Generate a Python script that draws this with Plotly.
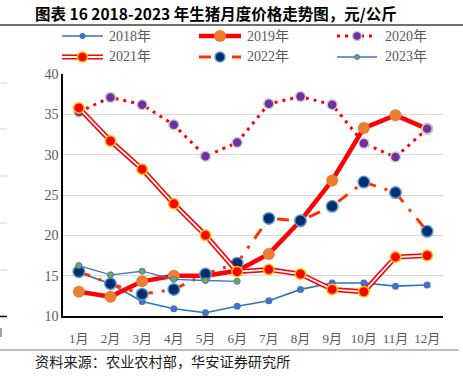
import plotly.graph_objects as go

months = ["1月", "2月", "3月", "4月", "5月", "6月", "7月", "8月", "9月", "10月", "11月", "12月"]
y2018 = [15.4, 14.0, 11.8, 10.9, 10.4, 11.2, 11.9, 13.3, 14.1, 14.1, 13.7, 13.85]
y2019 = [13.0, 12.4, 14.3, 15.0, 15.0, 15.6, 17.7, 21.8, 26.8, 33.3, 34.9, 33.2]
y2020 = [35.3, 37.1, 36.2, 33.7, 29.8, 31.5, 36.3, 37.2, 36.2, 31.4, 29.7, 33.2]
y2021 = [35.8, 31.7, 28.2, 23.9, 20.0, 15.5, 15.75, 15.2, 13.3, 13.0, 17.3, 17.5]
y2022 = [15.5, 14.0, 12.7, 13.3, 15.2, 16.55, 22.1, 21.8, 23.6, 26.6, 25.3, 20.5]
y2023 = [16.25, 15.1, 15.55, 14.55, 14.4, 14.3]
series_names = ["2018年", "2019年", "2020年", "2021年", "2022年", "2023年"]
y_ticks = [10, 15, 20, 25, 30, 35, 40]

W, H = 463, 381
L, R, T, B = 63, 443, 74, 316

def px(x):
    return (x - L) / (R - L)

def py(y):
    return (B - y) / (B - T)

SERIF = "Liberation Serif, Noto Sans CJK SC, serif"
GRAY = "#595959"

fig = go.Figure()

# 2018
fig.add_trace(go.Scatter(x=months, y=y2018, mode="lines+markers", name=series_names[0],
                         line=dict(color="#2E75B6", width=1.6),
                         marker=dict(color="#4472C4", size=7, line=dict(width=0))))
# 2019
fig.add_trace(go.Scatter(x=months, y=y2019, mode="lines+markers", name=series_names[1],
                         line=dict(color="#FF0000", width=4.5),
                         marker=dict(color="#ED7D31", size=12, line=dict(width=0))))
# 2020
fig.add_trace(go.Scatter(x=months, y=y2020, mode="lines+markers", name=series_names[2],
                         line=dict(color="#FF0000", width=3, dash="3px,5px"),
                         marker=dict(color="#7030A0", size=10, line=dict(color="#D0D0D0", width=1.5))))
# 2022
fig.add_trace(go.Scatter(x=months, y=y2022, mode="lines+markers", name=series_names[4],
                         line=dict(color="#FF3300", width=3, dash="12px,9px,3px,9px"),
                         marker=dict(color="#002F6C", size=11.5, line=dict(color="#5B9BD5", width=1.5))))
# 2021 double line
fig.add_trace(go.Scatter(x=months, y=y2021, mode="lines", name=series_names[3],
                         line=dict(color="#FF0000", width=5), hoverinfo="skip"))
fig.add_trace(go.Scatter(x=months, y=y2021, mode="lines+markers", name=series_names[3],
                         line=dict(color="#FFFFFF", width=1.8),
                         marker=dict(color="#FF0000", size=10.5, line=dict(color="#FFC000", width=1.5))))
# 2023
fig.add_trace(go.Scatter(x=months[:len(y2023)], y=y2023, mode="lines+markers", name=series_names[5],
                         line=dict(color="#4472C4", width=1.3),
                         marker=dict(color="#70AD47", size=6, line=dict(color="#4472C4", width=1))))

shapes = []
annotations = []

# Title line and bottom line
shapes.append(dict(type="line", xref="paper", yref="paper", x0=px(0), x1=px(463), y0=py(25), y1=py(25),
                   line=dict(color="#404040", width=1.5)))
shapes.append(dict(type="line", xref="paper", yref="paper", x0=px(0), x1=px(459), y0=py(350), y1=py(350),
                   line=dict(color="#7F7F7F", width=1.2)))
# left edge artifacts
for yy in [83, 129, 176, 223, 270]:
    shapes.append(dict(type="line", xref="paper", yref="paper", x0=px(0), x1=px(7), y0=py(yy), y1=py(yy),
                       line=dict(color="#D9D9D9", width=1)))
shapes.append(dict(type="line", xref="paper", yref="paper", x0=px(0), x1=px(7), y0=py(316.5), y1=py(316.5),
                   line=dict(color="#000000", width=1.5)))
shapes.append(dict(type="line", xref="paper", yref="paper", x0=px(1), x1=px(1), y0=py(328), y1=py(337),
                   line=dict(color="#404040", width=1)))

# Manual legend
def leg_marker(cx, cy, size, fill, border, bw):
    r = size / 2
    return dict(type="circle", xref="paper", yref="paper", xsizemode="pixel", ysizemode="pixel",
                xanchor=px(cx), yanchor=py(cy), x0=-r, x1=r, y0=-r, y1=r,
                fillcolor=fill, line=dict(color=border, width=bw))

def leg_line(x0, x1, yy, color, width, dash="solid"):
    return dict(type="line", xref="paper", yref="paper", x0=px(x0), x1=px(x1), y0=py(yy), y1=py(yy),
                line=dict(color=color, width=width, dash=dash))

r1, r2 = 36, 57
c1, c2, c3 = (62, 103), (199, 241), (337, 377)
# 2018
shapes.append(leg_line(*c1, r1, "#2E75B6", 1.6))
shapes.append(leg_marker(82.5, r1, 6, "#4472C4", "#4472C4", 0))
# 2019
shapes.append(leg_line(*c2, r1, "#FF0000", 4.5))
shapes.append(leg_marker(220, r1, 12, "#ED7D31", "#ED7D31", 0))
# 2020
shapes.append(leg_line(*c3, r1, "#FF0000", 3, "3px,5px"))
shapes.append(leg_marker(357, r1, 9, "#7030A0", "#D0D0D0", 1.5))
# 2021
shapes.append(leg_line(*c1, r2, "#FF0000", 5))
shapes.append(leg_line(*c1, r2, "#FFFFFF", 1.8))
shapes.append(leg_marker(82.5, r2, 10, "#FF0000", "#FFC000", 1.5))
# 2022
shapes.append(leg_line(*c2, r2, "#FF3300", 3, "12px,9px,3px,9px"))
shapes.append(leg_marker(220, r2, 10, "#002F6C", "#5B9BD5", 1.5))
# 2023
shapes.append(leg_line(*c3, r2, "#4472C4", 1.3))
shapes.append(leg_marker(357, r2, 5, "#70AD47", "#4472C4", 1))

for (cx, cy, name) in [(107, r1, series_names[0]), (245, r1, series_names[1]), (383, r1, series_names[2]),
                       (107, r2, series_names[3]), (245, r2, series_names[4]), (383, r2, series_names[5])]:
    annotations.append(dict(x=px(cx), y=py(cy), xref="paper", yref="paper", text=name, showarrow=False,
                            xanchor="left", yanchor="middle", font=dict(family=SERIF, size=14, color=GRAY)))

# Title
annotations.append(dict(x=px(33), y=py(13), xref="paper", yref="paper",
                        text="<b>图表 16 2018-2023 年生猪月度价格走势图，元/公斤</b>", showarrow=False,
                        xanchor="left", yanchor="middle",
                        font=dict(family="Noto Sans CJK SC, sans-serif", size=15.5, color="#000000")))
# Source
annotations.append(dict(x=px(33), y=py(361), xref="paper", yref="paper",
                        text="资料来源：农业农村部，华安证券研究所", showarrow=False,
                        xanchor="left", yanchor="middle",
                        font=dict(family="Noto Sans CJK SC, serif", size=14.2, color="#1A1A1A")))

fig.update_layout(
    width=W, height=H,
    margin=dict(l=L, r=W - R, t=T, b=H - B, pad=0),
    paper_bgcolor="white", plot_bgcolor="white",
    showlegend=False,
    shapes=shapes, annotations=annotations,
    xaxis=dict(type="category", range=[-0.5, 11.5], showgrid=False, showline=True,
               linecolor="#000000", linewidth=1.5, ticks="", tickfont=dict(family=SERIF, size=13, color=GRAY),
               ticklabelstandoff=10, zeroline=False, fixedrange=True),
    yaxis=dict(range=[10, 40], tickvals=y_ticks, showgrid=True, gridcolor="#D9D9D9", gridwidth=1,
               showline=True, linecolor="#000000", linewidth=1.5, ticks="",
               tickfont=dict(family=SERIF, size=14, color=GRAY), zeroline=False, fixedrange=True),
)

fig.write_html("out.html", config={"displayModeBar": False},
               post_script="document.body.style.margin='0';document.body.style.padding='0';")
